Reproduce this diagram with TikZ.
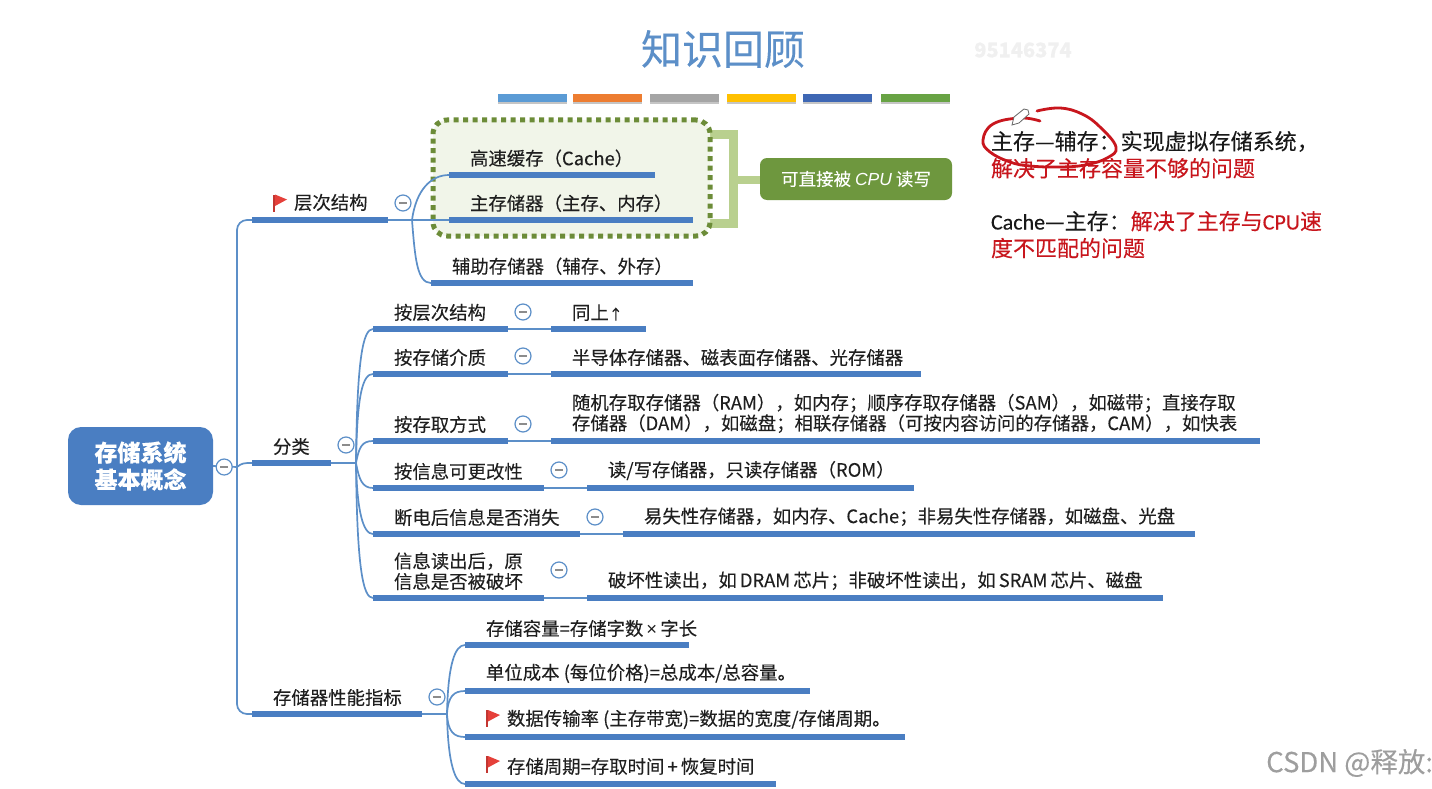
\documentclass[tikz,border=0pt]{standalone}
\usepackage{fontspec}
\setmainfont{Noto Sans CJK SC}[FakeBold=0.12]
\newfontfamily\cpufont{Liberation Sans}
\newfontfamily\califont{Carlito}[FakeBold=0.2]
\usetikzlibrary{positioning, calc, shadows}

\definecolor{barblue}{HTML}{4A7EC2}
\definecolor{linkblue}{HTML}{5C8FC8}
\definecolor{inkred}{HTML}{C8161D}
\definecolor{flagred}{HTML}{E5403A}
\definecolor{bracegreen}{HTML}{B9D08F}
\definecolor{boxgreen}{HTML}{6C8C38}
\definecolor{groupfill}{HTML}{F1F5E9}
\definecolor{tagfill}{HTML}{6E973E}
\definecolor{stripblue}{HTML}{5B9BD5}
\definecolor{striporange}{HTML}{ED7D31}
\definecolor{stripgray}{HTML}{A5A5A5}
\definecolor{stripyellow}{HTML}{FFC000}
\definecolor{stripnavy}{HTML}{3E67B4}
\definecolor{stripgreen}{HTML}{68A344}

\tikzset{
  bar/.style={fill=barblue, inner sep=0pt, outer sep=0pt, minimum height=5.5pt, minimum width=#1},
  topic/.style={inner sep=0pt, outer sep=0pt, align=left, text=black!88, font=\fontsize{18.4}{20.5}\selectfont},
  link/.style={draw=linkblue, line width=1.7pt},
  collapse/.style={circle, draw=linkblue, fill=white, line width=1.2pt, inner sep=0pt, minimum size=16pt,
    path picture={\draw[black!45, line width=1.2pt] ([xshift=-4pt]path picture bounding box.center) -- ([xshift=4pt]path picture bounding box.center);}},
  swatch/.style={fill=#1, inner sep=0pt, outer sep=0pt, minimum width=69pt, minimum height=8pt,
    drop shadow={shadow xshift=0pt, shadow yshift=-2pt, fill=black!45}},
  note/.style={inner sep=0pt, outer sep=0pt, anchor=north west, align=left, text=black!90, font=\fontsize{22}{27}\selectfont},
  redflag/.pic={
    \fill[flagred!85!black] (-5,-8) rectangle (-3,9);
    \fill[flagred] (-3,-8) -- (9,-3) -- (-3,3.5) -- cycle;
  }
}

\begin{document}
\begin{tikzpicture}[x=1pt, y=-1pt]
  \fill[white] (0,0) rectangle (1432,789);
  \useasboundingbox (0,0) rectangle (1432,789);

  % title and colour strip
  \node (Title) [inner sep=0pt, text=linkblue, font=\fontsize{41}{44}\selectfont] at (723,49) {知识回顾};
  \node (S1) [swatch=stripblue, anchor=west] at (498,98) {};
  \node (S2) [swatch=striporange, right=6pt of S1] {};
  \node (S3) [swatch=stripgray, right=8pt of S2] {};
  \node (S4) [swatch=stripyellow, right=8pt of S3] {};
  \node (S5) [swatch=stripnavy, right=7pt of S4] {};
  \node (S6) [swatch=stripgreen, right=9pt of S5] {};

  % faint marks
  \node (Mark) [inner sep=0pt, text=black!6, font=\bfseries\fontsize{20}{22}\selectfont] at (1023,50) {95146374};
  \node (Csdn) [inner sep=0pt, anchor=west, text=black!38, font=\fontsize{27.5}{29}\selectfont] at (1266,763) {CSDN @释放:};

  % root
  \node (Root) [fill=barblue, rounded corners=13pt, minimum width=145pt, minimum height=78pt, inner sep=0pt, align=center,
    text=white, font=\bfseries\fontsize{23}{27}\selectfont] at (140.5,466) {存储系统\\基本概念};

  % group around the first two memories
  \coordinate (Brace) at (733,180);
  \draw[bracegreen, line width=9pt] (705,134.5) -| (Brace) |- (705,223.5);
  \draw[bracegreen, line width=8pt] (Brace) -- (760,180);
  \node (Group) [fill=groupfill, draw=boxgreen, line width=5pt, dash pattern=on 5pt off 4.5pt, rounded corners=14pt,
    minimum width=277pt, minimum height=116pt, inner sep=0pt] at (571.5,178) {};
  \node (Direct) [fill=tagfill, rounded corners=7pt, minimum width=192pt, minimum height=42pt, inner sep=0pt,
    text=white, font=\fontsize{17.5}{20}\selectfont] at (856,179) {可直接被 {\cpufont\itshape CPU} 读写};

  % main bars
  \node (Hier) [bar=136pt, anchor=west] at (252,220) {};
  \node (Sort) [bar=79pt, anchor=west] at (252,463) {};
  \node (Perf) [bar=170pt, anchor=west] at (252,714) {};
  \node (HierT) [topic, above right=9pt and 42pt of Hier.west] {层次结构};
  \node (SortT) [topic, above right=8pt and 21pt of Sort.west] {分类};
  \node (PerfT) [topic, above right=8pt and 21pt of Perf.west] {存储器性能指标};
  \pic at (278,202.5) {redflag};

  % first level of the hierarchy
  \node (Cache) [bar=206pt, anchor=west] at (449,175) {};
  \node (Main) [bar=244pt, anchor=west] at (449,220) {};
  \node (Aux) [bar=262pt, anchor=west] at (431,283) {};
  \node (CacheT) [topic, above right=8pt and 21pt of Cache.west] {高速缓存（Cache）};
  \node (MainT) [topic, above right=8pt and 21pt of Main.west] {主存储器（主存、内存）};
  \node (AuxT) [topic, above right=8pt and 21pt of Aux.west] {辅助存储器（辅存、外存）};

  % kinds of memory
  \node (A1) [bar=135pt, anchor=west] at (373,329) {};
  \node (A2) [bar=135pt, anchor=west] at (373,374) {};
  \node (A3) [bar=135pt, anchor=west] at (373,441) {};
  \node (A4) [bar=171pt, anchor=west] at (373,488) {};
  \node (A5) [bar=207pt, anchor=west] at (373,534) {};
  \node (A6) [bar=171pt, anchor=west] at (373,598) {};
  \node (A1T) [topic, above right=8pt and 21pt of A1.west] {按层次结构};
  \node (A2T) [topic, above right=8pt and 21pt of A2.west] {按存储介质};
  \node (A3T) [topic, above right=8pt and 21pt of A3.west] {按存取方式};
  \node (A4T) [topic, above right=8pt and 21pt of A4.west] {按信息可更改性};
  \node (A5T) [topic, above right=8pt and 21pt of A5.west] {断电后信息是否消失};
  \node (A6T) [topic, above right=8pt and 21pt of A6.west] {信息读出后，原\\信息是否被破坏};

  \node (B1) [bar=95pt, right=43pt of A1] {};
  \node (B2) [bar=370pt, right=43pt of A2] {};
  \node (B3) [bar=709pt, right=43pt of A3] {};
  \node (B4) [bar=327pt, right=43pt of A4] {};
  \node (B5) [bar=572pt, right=43pt of A5] {};
  \node (B6) [bar=576pt, right=43pt of A6] {};
  \node (B1T) [topic, above right=8pt and 21pt of B1.west] {同上{\fontsize{14}{14}\selectfont ↑}};
  \node (B2T) [topic, above right=8pt and 21pt of B2.west] {半导体存储器、磁表面存储器、光存储器};
  \node (B3T) [topic, above right=8pt and 21pt of B3.west] {随机存取存储器（RAM），如内存；顺序存取存储器（SAM），如磁带；直接存取\\存储器（DAM），如磁盘；相联存储器（可按内容访问的存储器，CAM），如快表};
  \node (B4T) [topic, above right=8pt and 21pt of B4.west] {读/写存储器，只读存储器（ROM）};
  \node (B5T) [topic, above right=8pt and 21pt of B5.west] {易失性存储器，如内存、Cache；非易失性存储器，如磁盘、光盘};
  \node (B6T) [topic, above right=8pt and 21pt of B6.west] {破坏性读出，如\,DRAM\,芯片；非破坏性读出，如\,SRAM\,芯片、磁盘};

  % performance figures
  \node (C1) [bar=224pt, anchor=west] at (465,645) {};
  \node (C2) [bar=345pt, anchor=west] at (465,691) {};
  \node (C3) [bar=440pt, anchor=west] at (465,737) {};
  \node (C4) [bar=311pt, anchor=west] at (465,784) {};
  \node (C1T) [topic, above right=8pt and 21pt of C1.west] {存储容量=存储字数\,{\cpufont ×}\,字长};
  \node (C2T) [topic, above right=8pt and 21pt of C2.west] {单位成本 (每位价格)=总成本/总容量。};
  \node (C3T) [topic, above right=8pt and 42pt of C3.west] {数据传输率 (主存带宽)=数据的宽度/存储周期。};
  \node (C4T) [topic, above right=9pt and 42pt of C4.west] {存储周期=存取时间\,+\,恢复时间};
  \pic at (491,718) {redflag};
  \pic at (491,764) {redflag};

  % connectors
  \coordinate (RootHub) at (237,467);
  \coordinate (HierHub) at (412,220);
  \coordinate (SortHub) at (356,463);
  \coordinate (PerfHub) at (447,714);
  \draw[link] (Root.east) -- (RootHub);
  \draw[link, rounded corners=10pt] (Hier.west) -| (RootHub) |- (Perf.west);
  \draw[link] (RootHub) .. controls +(5,-4) and +(-8,0) .. (Sort.west);
  \draw[link] (Hier.east) -- (HierHub);
  \draw[link] (Sort.east) -- (SortHub);
  \draw[link] (Perf.east) -- (PerfHub);

  \draw[link] (HierHub) .. controls +(4,-30) and +(-18,0) .. (Cache.west);
  \draw[link] (HierHub) -- (Main.west);
  \draw[link] (HierHub) .. controls +(3,38) and +(-14,0) .. (Aux.west);

  \draw[link] (SortHub) .. controls +(1,-105) and +(-10,0) .. (A1.west);
  \draw[link] (SortHub) .. controls +(1,-70) and +(-10,0) .. (A2.west);
  \draw[link] (SortHub) .. controls +(3,-16) and +(-11,0) .. (A3.west);
  \draw[link] (SortHub) .. controls +(3,16) and +(-11,0) .. (A4.west);
  \draw[link] (SortHub) .. controls +(1,48) and +(-10,0) .. (A5.west);
  \draw[link] (SortHub) .. controls +(1,105) and +(-10,0) .. (A6.west);

  \draw[link] (A1) -- (B1);
  \draw[link] (A2) -- (B2);
  \draw[link] (A3) -- (B3);
  \draw[link] (A4) -- (B4);
  \draw[link] (A5) -- (B5);
  \draw[link] (A6) -- (B6);

  \draw[link] (PerfHub) .. controls +(1,-50) and +(-10,0) .. (C1.west);
  \draw[link] (PerfHub) .. controls +(1,-18) and +(-11,0) .. (C2.west);
  \draw[link] (PerfHub) .. controls +(1,18) and +(-11,0) .. (C3.west);
  \draw[link] (PerfHub) .. controls +(1,50) and +(-10,0) .. (C4.west);

  % collapse marks
  \node (RootC) [collapse] at ($(Root.east)+(11,1)$) {};
  \node (HierC) [collapse] at ($(Hier.east)+(15,-17)$) {};
  \node (SortC) [collapse] at ($(Sort.east)+(15,-18)$) {};
  \node (PerfC) [collapse] at ($(Perf.east)+(15,-17)$) {};
  \node (A1C) [collapse] at ($(A1.east)+(15,-17)$) {};
  \node (A2C) [collapse] at ($(A2.east)+(15,-18)$) {};
  \node (A3C) [collapse] at ($(A3.east)+(15,-17)$) {};
  \node (A4C) [collapse] at ($(A4.east)+(15,-18)$) {};
  \node (A5C) [collapse] at ($(A5.east)+(15,-17)$) {};
  \node (A6C) [collapse] at ($(A6.east)+(15,-28)$) {};

  % notes on the right
  \node (NoteA) [note] at (991,131) {主存—辅存：实现虚拟存储系统，\\\textcolor{inkred}{解决了主存容量不够的问题}};
  \node (NoteB) [note] at (991,211) {{\califont Cache}—主存：\textcolor{inkred}{解决了主存与{\califont CPU}速}\\\textcolor{inkred}{度不匹配的问题}};

  % hand mark over the first note
  \draw[inkred, line width=2.8pt, line cap=round] plot[smooth, tension=0.7] coordinates {(1037,111) (1060,108) (1082,114) (1100,127) (1116,147) (1107,158) (1085,165) (1060,167) (1030,166) (1010,162) (990,152) (983,140) (993,124) (1020,118) (1040,121)};
  \draw[black!60, fill=white, line width=0.8pt] (1012,125) -- (1014,117) -- (1024,109) -- (1028,110) -- (1029,114) -- (1019,123) -- cycle;
\end{tikzpicture}
\end{document}
